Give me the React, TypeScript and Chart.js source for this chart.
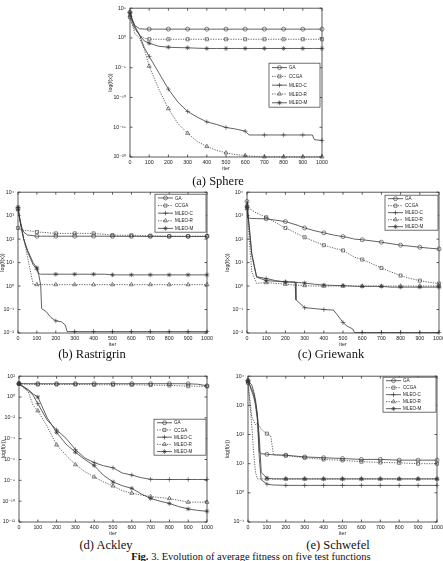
import React, { useEffect, useRef } from 'react';
import { Chart, registerables } from 'chart.js';
import { drawPoint } from 'chart.js/helpers';

Chart.register(...registerables);

// ---------- shared ----------
const seriesNames = ['GA', 'CCGA', 'MLEO-C', 'MLEO-R', 'MLEO-M'];
const pointStyles = ['circle', 'rect', 'cross', 'triangle', 'star'];
const dashes: number[][] = [[], [1.2, 1.3], [], [1.2, 1.3], []];
const markerR = [2.0, 2.2, 2.3, 2.3, 2.3];

// ---------- (a) Sphere ----------
const iterA = [0, 10, 25, 50, 75, 100, 150, 200, 250, 300, 350, 400, 450, 500, 550, 600, 620, 650, 700, 750, 800, 850, 900, 950, 960, 1000];
const gaA = [2e4, 1.5e3, 120, 35, 31, 30, 30, 30, 30, 30, 30, 30, 30, 30, 30, 30, 30, 30, 30, 30, 30, 30, 30, 30, 30, 30];
const ccgaA = [3e3, 300, 30, 3, 0.9, 0.6, 0.6, 0.6, 0.6, 0.6, 0.6, 0.6, 0.6, 0.6, 0.6, 0.6, 0.6, 0.6, 0.6, 0.6, 0.6, 0.6, 0.6, 0.6, 0.6, 0.6];
const mleocA = [2e4, 1e3, 50, 3, 0.02, 8e-4, 1.4e-6, 2.5e-9, 1.6e-11, 4.5e-13, 5e-14, 8e-15, 3e-15, 9e-16, 5e-16, 2.2e-16, 5e-17, 5e-17, 5e-17, 5e-17, 5e-17, 5e-17, 5e-17, 5e-17, 8e-18, 6e-18];
const mleorA = [6e3, 300, 5, 1, 1e-2, 1.8e-5, 2.5e-9, 1.3e-12, 4e-15, 1e-16, 4e-18, 6e-19, 1.3e-19, 5e-20, 2.5e-20, 1.8e-20, 1.5e-20, 1.2e-20, 1.05e-20, 1.05e-20, 1.05e-20, 1.05e-20, 1.05e-20, 1.05e-20, 1.05e-20, 1.05e-20];
const mleomA = [1.6e4, 2e3, 100, 3, 0.3, 0.13, 0.04, 0.028, 0.024, 0.022, 0.019, 0.017, 0.017, 0.017, 0.017, 0.017, 0.017, 0.017, 0.017, 0.017, 0.017, 0.017, 0.017, 0.017, 0.017, 0.017];
const yTicksA = [1e-20, 1e-15, 1e-10, 1e-5, 1, 1e5];

// ---------- (b) Rastrigrin ----------
const iterB = [0, 10, 20, 30, 50, 80, 100, 110, 120, 125, 150, 175, 200, 230, 250, 260, 300, 400, 460, 500, 600, 700, 800, 900, 1000];
const gaB = [2000, 700, 300, 200, 150, 140, 133, 133, 133, 133, 133, 133, 133, 133, 133, 133, 133, 133, 133, 132, 131, 130, 130, 130, 130];
const ccgaB = [300, 270, 250, 240, 230, 215, 200, 198, 196, 195, 190, 180, 175, 175, 175, 175, 175, 175, 160, 148, 145, 140, 133, 133, 133];
const mleocB = [2200, 600, 250, 100, 30, 8, 5.2, 3.0, 1.1, 0.11, 0.08, 0.045, 0.033, 0.03, 0.022, 0.0115, 0.0115, 0.0115, 0.0115, 0.0115, 0.0115, 0.0115, 0.0115, 0.0115, 0.0115];
const mleorB = [1800, 700, 300, 117, 18, 1.15, 1.15, 1.15, 1.15, 1.15, 1.15, 1.15, 1.15, 1.15, 1.15, 1.15, 1.15, 1.15, 1.15, 1.15, 1.15, 1.15, 1.15, 1.15, 1.15];
const mleomB = [2300, 700, 250, 100, 35, 10, 6, 3.4, 3.2, 3.2, 3.2, 3.2, 3.2, 3.2, 3.2, 3.2, 3.2, 3.2, 3.2, 3.0, 3.0, 3.0, 3.0, 3.0, 3.0];
const yTicksB = [1e-2, 1e-1, 1, 10, 100, 1e3, 1e4];

// ---------- (c) Griewank ----------
const iterC = [0, 3, 10, 25, 50, 100, 150, 200, 250, 255, 300, 350, 400, 450, 470, 500, 520, 550, 560, 600, 650, 700, 750, 800, 850, 900, 950, 1000];
const gaC = [4000, 800, 780, 760, 750, 730, 640, 560, 420, 410, 300, 230, 185, 150, 140, 128, 120, 105, 100, 94, 84, 74, 64, 55, 50, 45, 41, 38];
const ccgaC = [2500, 2450, 2300, 1700, 1300, 850, 500, 300, 190, 180, 120, 80, 55, 42, 38, 33, 26, 19, 17, 13.5, 9, 5.9, 4, 2.8, 2.1, 1.7, 1.45, 1.27];
const mleocC = [2500, 2000, 500, 25, 2.5, 2.1, 1.7, 1.5, 1.5, 0.26, 0.12, 0.11, 0.1, 0.095, 0.06, 0.028, 0.02, 0.015, 0.0105, 0.0105, 0.0105, 0.0105, 0.0105, 0.0105, 0.0105, 0.0105, 0.0105, 0.0105];
const mleorC = [2000, 1000, 150, 4, 1.3, 1.4, 1.3, 1.2, 1.1, 1.1, 1.05, 1.0, 1.0, 1.0, 1.0, 1.0, 1.0, 1.0, 1.0, 1.0, 1.0, 1.0, 1.0, 1.0, 1.0, 1.0, 1.0, 1.0];
const mleomC = [2200, 1800, 400, 20, 2.4, 1.7, 1.6, 1.5, 1.45, 1.45, 1.35, 1.2, 1.1, 1.07, 1.05, 1.05, 1.02, 1.0, 0.98, 0.97, 0.97, 0.97, 0.9, 0.9, 0.9, 0.9, 0.9, 0.9];
const yTicksC = [1e-2, 1e-1, 1, 10, 100, 1e3, 1e4];

// ---------- (d) Ackley ----------
const iterD = [0, 50, 75, 100, 150, 200, 250, 300, 350, 400, 450, 500, 550, 600, 650, 700, 750, 800, 850, 900, 950, 1000];
const gaD = [19, 19, 19, 19, 19, 19, 19, 19, 19, 19, 19, 19, 19, 19, 19, 19, 19, 19, 19, 18.5, 17, 12];
const ccgaD = [19, 17, 16.5, 16, 16, 16, 16, 16, 15.5, 15, 15, 15, 15, 15, 14.5, 14, 13.5, 13, 12, 11, 10.8, 10.5];
const mleocD = [19, 4, 1.5, 0.23, 6e-3, 7e-4, 1.1e-4, 9e-6, 1.4e-6, 5e-7, 2.5e-7, 1.6e-7, 5e-8, 3.2e-8, 1.8e-8, 1.25e-8, 1.2e-8, 1.2e-8, 1.2e-8, 1.2e-8, 1.2e-8, 1.2e-8];
const mleorD = [19, 3, 0.16, 0.048, 1.5e-3, 2.5e-5, 2.5e-6, 3.2e-7, 7e-8, 2.1e-8, 7e-9, 2.9e-9, 1e-9, 5.9e-10, 3.8e-10, 2.8e-10, 2.2e-10, 1.8e-10, 1.2e-10, 8e-11, 8e-11, 8e-11];
const mleomD = [19, 5, 2, 1.0, 1e-2, 4e-4, 3e-5, 5e-6, 1e-6, 2.6e-7, 3e-8, 7e-9, 3e-9, 1.7e-9, 5e-10, 1.8e-10, 1e-10, 6e-11, 3e-11, 1.8e-11, 1.3e-11, 1.07e-11];
const yTicksD = [1e-12, 1e-10, 1e-8, 1e-6, 1e-4, 1e-2, 1, 100];

// ---------- (e) Schwefel ----------
const iterE = [0, 20, 30, 40, 50, 60, 70, 100, 120, 135, 150, 200, 300, 400, 500, 600, 700, 800, 900, 1000];
const gaE = [7000, 5000, 3000, 1500, 500, 25, 22, 21, 20.5, 20.2, 20, 19.5, 17, 16, 15, 14, 14, 13.2, 13.2, 13.2];
const ccgaE = [6000, 400, 300, 215, 250, 200, 150, 107, 90, 20, 20, 19, 16, 14, 13, 11.7, 11, 10.7, 10, 10];
const mleocE = [7000, 3000, 2000, 1000, 300, 15, 2.8, 2.0, 1.9, 1.85, 1.85, 1.8, 1.8, 1.8, 1.8, 1.8, 1.8, 1.8, 1.8, 1.8];
const mleorE = [6500, 200, 23, 5, 3.0, 3.0, 3.0, 3.0, 3.0, 3.0, 3.0, 3.0, 3.0, 3.0, 3.0, 3.0, 3.0, 3.0, 3.0, 3.0];
const mleomE = [7000, 3500, 2500, 1200, 400, 80, 5, 3.2, 3.1, 3.0, 3.0, 3.0, 3.0, 3.0, 3.0, 3.0, 3.0, 3.0, 3.0, 3.0];
const yTicksE = [1e-1, 1, 10, 100, 1e3, 1e4];

// ---------- helpers ----------
const SUP: Record<string, string> = { '-': '⁻', '0': '⁰', '1': '¹', '2': '²', '3': '³', '4': '⁴', '5': '⁵', '6': '⁶', '7': '⁷', '8': '⁸', '9': '⁹' };
const fmtPow = (v: number) => '10' + String(Math.round(Math.log10(v))).split('').map((c) => SUP[c]).join('');

const SANS = 'Liberation Sans, Arial, DejaVu Sans, sans-serif';
const LINE = '#3a3a3a';
const MARK = '#333';
const TXT = '#222';
const TICK_FONT = 5.3;

const frameLegend = {
  id: 'frameLegend',
  afterDraw(chart: any, _args: any, opts: any) {
    const { ctx, chartArea: a, scales } = chart;
    ctx.save();
    ctx.strokeStyle = '#333';
    ctx.lineWidth = 0.8;
    ctx.setLineDash([]);
    ctx.strokeRect(a.left, a.top, a.right - a.left, a.bottom - a.top);
    const tl = 2.5;
    ctx.beginPath();
    for (const t of scales.x.ticks) {
      const px = scales.x.getPixelForValue(t.value);
      ctx.moveTo(px, a.bottom); ctx.lineTo(px, a.bottom - tl);
      ctx.moveTo(px, a.top); ctx.lineTo(px, a.top + tl);
    }
    for (const t of scales.y.ticks) {
      const py = scales.y.getPixelForValue(t.value);
      ctx.moveTo(a.left, py); ctx.lineTo(a.left + tl, py);
      ctx.moveTo(a.right, py); ctx.lineTo(a.right - tl, py);
    }
    ctx.stroke();

    // legend box
    const { gapR, top, w, h } = opts;
    const bx = a.right - gapR - w;
    const by = a.top + top;
    ctx.fillStyle = '#fff';
    ctx.fillRect(bx, by, w, h);
    ctx.lineWidth = 0.7;
    ctx.strokeRect(bx, by, w, h);
    const n = chart.data.datasets.length;
    const rowH = h / n;
    ctx.font = `4.6px ${SANS}`;
    ctx.textBaseline = 'middle';
    ctx.textAlign = 'left';
    chart.data.datasets.forEach((ds: any, i: number) => {
      const y = by + rowH * (i + 0.5);
      const x0 = bx + 3, x1 = bx + 18;
      ctx.strokeStyle = LINE;
      ctx.lineWidth = 0.8;
      ctx.setLineDash(dashes[i]);
      ctx.beginPath(); ctx.moveTo(x0, y); ctx.lineTo(x1, y); ctx.stroke();
      ctx.setLineDash([]);
      ctx.strokeStyle = MARK;
      ctx.fillStyle = 'rgba(0,0,0,0)';
      ctx.lineWidth = 0.6;
      drawPoint(ctx, { pointStyle: pointStyles[i], radius: markerR[i], borderWidth: 0.6, rotation: 0 } as any, (x0 + x1) / 2, y);
      ctx.fillStyle = TXT;
      ctx.fillText(ds.label, x1 + 2, y + 0.3);
    });
    ctx.restore();
  },
};

type PanelSpec = {
  iters: number[];
  series: number[][];
  yMin: number;
  yMax: number;
  yTicks: number[];
  plot: { l: number; t: number; r: number; b: number };
  yW: number;
  legend: { gapR: number; top: number; w: number; h: number };
};

function Panel({ spec }: { spec: PanelSpec }) {
  const ref = useRef<HTMLCanvasElement>(null);
  const { plot, yW } = spec;
  const padTop = 5, padRight = 8, xH = 15;
  const left = plot.l - yW;
  const top = plot.t - padTop;
  const width = plot.r + padRight - left;
  const height = plot.b + xH - top;

  useEffect(() => {
    const chart = new Chart(ref.current as HTMLCanvasElement, {
      type: 'line',
      data: {
        datasets: spec.series.map((vals, i) => ({
          label: seriesNames[i],
          data: spec.iters.map((x, j) => ({ x, y: vals[j] })),
          borderColor: LINE,
          borderWidth: 0.8,
          borderDash: dashes[i],
          pointStyle: pointStyles[i] as any,
          pointRadius: (c: any) => (spec.iters[c.dataIndex] % 100 === 0 ? markerR[i] : 0),
          pointHoverRadius: 0,
          pointBorderColor: MARK,
          pointBackgroundColor: 'rgba(0,0,0,0)',
          pointBorderWidth: 0.6,
          tension: 0,
          fill: false,
          clip: 5,
        })),
      },
      options: {
        responsive: false,
        animation: false,
        devicePixelRatio: 1,
        events: [],
        layout: { padding: { top: padTop, right: padRight, left: 0, bottom: 0 } },
        plugins: {
          legend: { display: false },
          tooltip: { enabled: false },
          frameLegend: spec.legend,
        } as any,
        scales: {
          x: {
            type: 'linear',
            min: 0,
            max: 1000,
            ticks: { stepSize: 100, padding: 2, maxRotation: 0, autoSkip: false, color: TXT, font: { size: TICK_FONT, family: SANS }, callback: (v: any) => String(v) },
            grid: { display: false, drawTicks: false },
            border: { display: false },
            title: { display: true, text: 'iter', color: TXT, padding: 0, font: { size: TICK_FONT, family: SANS } },
            afterFit: (s: any) => { s.height = xH; },
          },
          y: {
            type: 'logarithmic',
            min: spec.yMin,
            max: spec.yMax,
            afterBuildTicks: (s: any) => { s.ticks = spec.yTicks.map((v) => ({ value: v })); },
            ticks: { padding: 4, autoSkip: false, color: TXT, font: { size: TICK_FONT, family: SANS }, callback: (v: any) => fmtPow(Number(v)) },
            grid: { display: false, drawTicks: false },
            border: { display: false },
            title: { display: true, text: 'log(f(x))', color: TXT, padding: 0, font: { size: TICK_FONT, family: SANS } },
            afterFit: (s: any) => { s.width = yW; },
          },
        } as any,
      },
      plugins: [frameLegend],
    });
    return () => chart.destroy();
  }, []);

  return (
    <canvas
      ref={ref}
      width={width}
      height={height}
      style={{ position: 'absolute', left, top, width, height }}
    />
  );
}

const panels: PanelSpec[] = [
  { iters: iterA, series: [gaA, ccgaA, mleocA, mleorA, mleomA], yMin: 1e-20, yMax: 1e5, yTicks: yTicksA,
    plot: { l: 130, t: 6, r: 322, b: 157 }, yW: 23, legend: { gapR: 2, top: 55, w: 51, h: 44 } },
  { iters: iterB, series: [gaB, ccgaB, mleocB, mleorB, mleomB], yMin: 1e-2, yMax: 1e4, yTicks: yTicksB,
    plot: { l: 18, t: 190, r: 207, b: 333 }, yW: 19, legend: { gapR: 1, top: 2, w: 51, h: 38 } },
  { iters: iterC, series: [gaC, ccgaC, mleocC, mleorC, mleomC], yMin: 1e-2, yMax: 1e4, yTicks: yTicksC,
    plot: { l: 247, t: 190, r: 439, b: 333 }, yW: 23, legend: { gapR: 1, top: 3, w: 53, h: 35 } },
  { iters: iterD, series: [gaD, ccgaD, mleocD, mleorD, mleomD], yMin: 1e-12, yMax: 1e2, yTicks: yTicksD,
    plot: { l: 19, t: 374, r: 207, b: 522 }, yW: 19, legend: { gapR: 1, top: 43, w: 52, h: 36 } },
  { iters: iterE, series: [gaE, ccgaE, mleocE, mleorE, mleomE], yMin: 1e-1, yMax: 1e4, yTicks: yTicksE,
    plot: { l: 248, t: 374, r: 437, b: 522 }, yW: 24, legend: { gapR: 1, top: 1, w: 53, h: 35 } },
];

const captions = [
  { text: '(a) Sphere', cx: 218, cy: 181 },
  { text: '(b) Rastrigrin', cx: 92, cy: 354 },
  { text: '(c) Griewank', cx: 331, cy: 354 },
  { text: '(d) Ackley', cx: 106, cy: 545 },
  { text: '(e) Schwefel', cx: 338, cy: 545 },
];

export default function App() {
  return (
    <div style={{ position: 'absolute', left: 0, top: 0, width: 443, height: 561, overflow: 'hidden', background: '#fff' }}>
      {panels.map((p, i) => <Panel key={i} spec={p} />)}
      {captions.map((c, i) => (
        <div key={i} style={{ position: 'absolute', left: c.cx - 80, top: c.cy - 7, width: 160, lineHeight: '14px', textAlign: 'center', fontFamily: 'Liberation Serif, Times New Roman, serif', fontSize: 12.5, color: '#111', whiteSpace: 'nowrap' }}>
          {c.text}
        </div>
      ))}
      <div style={{ position: 'absolute', left: 71, top: 550, width: 360, lineHeight: '14px', textAlign: 'center', fontFamily: 'Liberation Serif, Times New Roman, serif', fontSize: 10.5, color: '#111', whiteSpace: 'nowrap' }}>
        <b>Fig.</b> 3. Evolution of average fitness on five test functions
      </div>
    </div>
  );
}
